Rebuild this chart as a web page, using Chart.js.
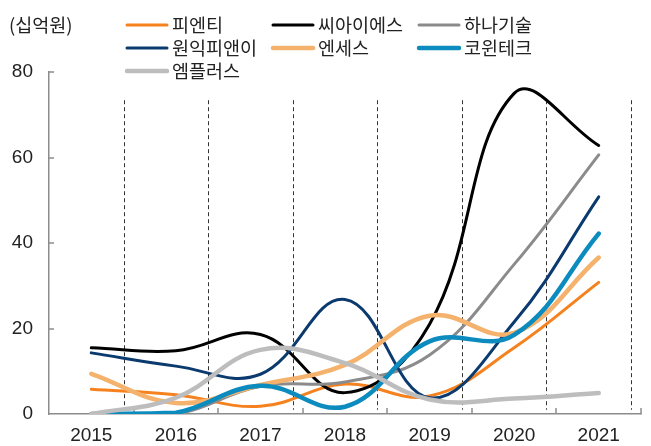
<!DOCTYPE html>
<html><head><meta charset="utf-8">
<script src="https://cdn.jsdelivr.net/npm/chart.js@4/dist/chart.umd.min.js"></script>
<style>html,body{margin:0;padding:0;background:#fff;}#wrap{width:651px;height:446px;position:relative;}</style>
</head><body><div id="wrap"><canvas id="c" width="651" height="446"></canvas></div>
<script>
// ---- data ----
const categories = ['2015','2016','2017','2018','2019','2020','2021'];
const seriesNames = ['피엔티','씨아이에스','하나기술','원익피앤이','엔세스','코윈테크','엠플러스'];
const pnt   = [5.8, 4.5, 1.8, 7.0, 4.2, 15.5, 30.8];
const cis   = [15.5, 14.8, 18.6, 5.0, 21.0, 75.0, 62.8];
const hana  = [0, 0, 6.5, 7.5, 13.8, 35.0, 60.6];
const wonik = [14.3, 11.2, 9.3, 26.8, 3.8, 21.5, 50.8];
const enses = [9.4, 2.6, 6.8, 11.5, 23.0, 19.0, 36.6];
const cowin = [0, 0.3, 6.6, 1.7, 17.0, 18.5, 42.2];
const mplus = [0, 3.8, 15.0, 11.9, 3.4, 3.6, 4.9];
const yTicks = [0, 20, 40, 60, 80];
const unitLabel = '(십억원)';

// ---- styles ----
const seriesValues = [pnt, cis, hana, wonik, enses, cowin, mplus];
const colors = ['#f5821f','#000000','#8b8b8b','#0b3a6f','#f4b26c','#0c8bbf','#bdbdbd'];
const widths = [3, 3, 3, 3, 4.5, 4.5, 4.5];
const AXIS = '#8c8c8c';
const TEXT = '#222222';
const KFONT = "'Noto Sans CJK KR', 'Liberation Sans', sans-serif";
const NFONT = "'Liberation Sans', 'Noto Sans CJK KR', sans-serif";

const datasets = seriesNames.map((n, i) => ({
  label: n,
  data: seriesValues[i],
  borderColor: colors[i],
  backgroundColor: colors[i],
  borderWidth: widths[i],
  tension: 0.4,
  pointRadius: 0,
  fill: false,
  borderCapStyle: 'round',
  order: seriesNames.length - i
}));

const decor = {
  id: 'decor',
  beforeDatasetsDraw(chart) {
    const ctx = chart.ctx, x = chart.scales.x, y = chart.scales.y;
    const half = (x.getPixelForValue(1) - x.getPixelForValue(0)) / 2;
    ctx.save();
    ctx.strokeStyle = '#333';
    ctx.lineWidth = 1;
    ctx.setLineDash([4, 3]);
    const top = y.getPixelForValue(73.4), bot = y.getPixelForValue(1);
    for (let i = 0; i < categories.length; i++) {
      const px = Math.round(x.getPixelForValue(i) + half - 10) + 0.5;
      ctx.beginPath(); ctx.moveTo(px, top); ctx.lineTo(px, bot); ctx.stroke();
    }
    ctx.setLineDash([]);
    ctx.strokeStyle = AXIS;
    ctx.lineWidth = 1.5;
    const base = y.getPixelForValue(0);
    for (let i = 0; i < categories.length; i++) {
      const px = Math.round(x.getPixelForValue(i) + half);
      ctx.beginPath(); ctx.moveTo(px, base); ctx.lineTo(px, base - 6); ctx.stroke();
    }
    for (const v of yTicks) {
      if (v === 0) continue;
      const py = Math.round(y.getPixelForValue(v));
      ctx.beginPath(); ctx.moveTo(x.left, py); ctx.lineTo(x.left + 5, py); ctx.stroke();
    }
    ctx.restore();
  },
  afterDraw(chart) {
    const ctx = chart.ctx;
    ctx.save();
    ctx.fillStyle = TEXT;
    ctx.textBaseline = 'middle';
    ctx.textAlign = 'left';
    ctx.font = "18.5px " + KFONT;
    ctx.fillText(unitLabel, 9, 25);
    const colX = [127, 273, 419];
    const rowY = [25, 48, 71];
    chart.data.datasets.forEach((ds, i) => {
      const cx = colX[i % 3], cy = rowY[Math.floor(i / 3)];
      ctx.strokeStyle = ds.borderColor;
      ctx.lineWidth = ds.borderWidth;
      ctx.lineCap = 'round';
      ctx.beginPath(); ctx.moveTo(cx, cy); ctx.lineTo(cx + 40, cy); ctx.stroke();
      ctx.fillStyle = TEXT;
      ctx.fillText(ds.label, cx + 45, cy);
    });
    ctx.restore();
  }
};

new Chart(document.getElementById('c'), {
  type: 'line',
  data: { labels: categories, datasets },
  plugins: [decor],
  options: {
    responsive: false,
    animation: false,
    devicePixelRatio: 1,
    layout: { padding: { top: 72, left: 12, right: 10, bottom: 0 } },
    plugins: { legend: { display: false }, tooltip: { enabled: false } },
    scales: {
      x: {
        type: 'category',
        offset: true,
        grid: { display: false, drawTicks: false },
        border: { display: true, color: AXIS, width: 1.5 },
        ticks: { color: TEXT, font: { family: NFONT, size: 19, lineHeight: 1.2 }, padding: 10, maxRotation: 0 },
        afterFit: (s) => { s.height = 32; s.paddingLeft = 0; s.paddingRight = 0; }
      },
      y: {
        min: 0, max: 80,
        afterBuildTicks: (s) => { s.ticks = yTicks.map(v => ({ value: v })); },
        grid: { display: false, drawTicks: false },
        border: { display: true, color: AXIS, width: 1.5 },
        ticks: { color: TEXT, font: { family: NFONT, size: 19 }, padding: 16 },
        afterFit: (s) => { s.width = 37; }
      }
    }
  }
});
</script>
</body></html>
